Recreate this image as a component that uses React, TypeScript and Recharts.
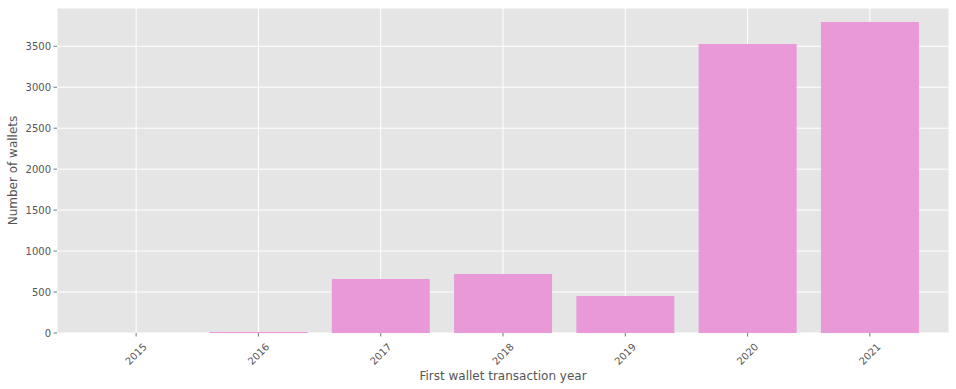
import { BarChart, Bar, XAxis, YAxis, CartesianGrid, Label } from 'recharts'

const years = ['2015', '2016', '2017', '2018', '2019', '2020', '2021']
const wallets = [1, 12, 659, 720, 452, 3528, 3796]
const yTicks = [0, 500, 1000, 1500, 2000, 2500, 3000, 3500]

const data = years.map((year, i) => ({ year, wallets: wallets[i] }))

const FONT = '"DejaVu Sans", sans-serif'
const INK = '#555555'

function YearTick(props: any) {
  const { x, y, payload } = props
  const cy = y + 21
  return (
    <g>
      <line x1={x} x2={x} y1={y} y2={y + 3.5} stroke={INK} strokeWidth={0.8} />
      <text
        x={x}
        y={cy}
        fontSize={10}
        fontFamily={FONT}
        fill={INK}
        textAnchor="middle"
        dominantBaseline="central"
        transform={`rotate(-45, ${x}, ${cy})`}
      >
        {payload.value}
      </text>
    </g>
  )
}

function CountTick(props: any) {
  const { x, y, payload } = props
  return (
    <g>
      <line x1={x - 3.5} x2={x} y1={y} y2={y} stroke={INK} strokeWidth={0.8} />
      <text
        x={x - 6}
        y={y}
        fontSize={10}
        fontFamily={FONT}
        fill={INK}
        textAnchor="end"
        dominantBaseline="central"
      >
        {payload.value}
      </text>
    </g>
  )
}

export default function App() {
  return (
    <div style={{ position: 'absolute', left: 0, top: 0 }}>
      <BarChart
        width={956}
        height={389}
        data={data}
        margin={{ top: 8, right: 7, left: 0, bottom: 0 }}
        barCategoryGap="10%"
      >
        <CartesianGrid stroke="#ffffff" strokeWidth={1} fill="#e5e5e5" fillOpacity={1} />
        <XAxis
          dataKey="year"
          height={56}
          axisLine={false}
          tickLine={false}
          tickSize={0}
          tickMargin={0}
          interval={0}
          padding={{ left: 18, right: 18 }}
          tick={<YearTick />}
        >
          <Label
            value="First wallet transaction year"
            position="insideBottom"
            offset={9}
            style={{ fontSize: 12, fontFamily: FONT, fill: INK }}
          />
        </XAxis>
        <YAxis
          width={57}
          domain={[0, 3967]}
          ticks={yTicks}
          axisLine={false}
          tickLine={false}
          tickSize={0}
          tickMargin={0}
          tick={<CountTick />}
          allowDataOverflow
        >
          <Label
            value="Number of wallets"
            angle={-90}
            position="insideLeft"
            offset={13}
            style={{ fontSize: 12, fontFamily: FONT, fill: INK, textAnchor: 'middle' }}
          />
        </YAxis>
        <Bar dataKey="wallets" fill="#e998d8" isAnimationActive={false} />
      </BarChart>
    </div>
  )
}
